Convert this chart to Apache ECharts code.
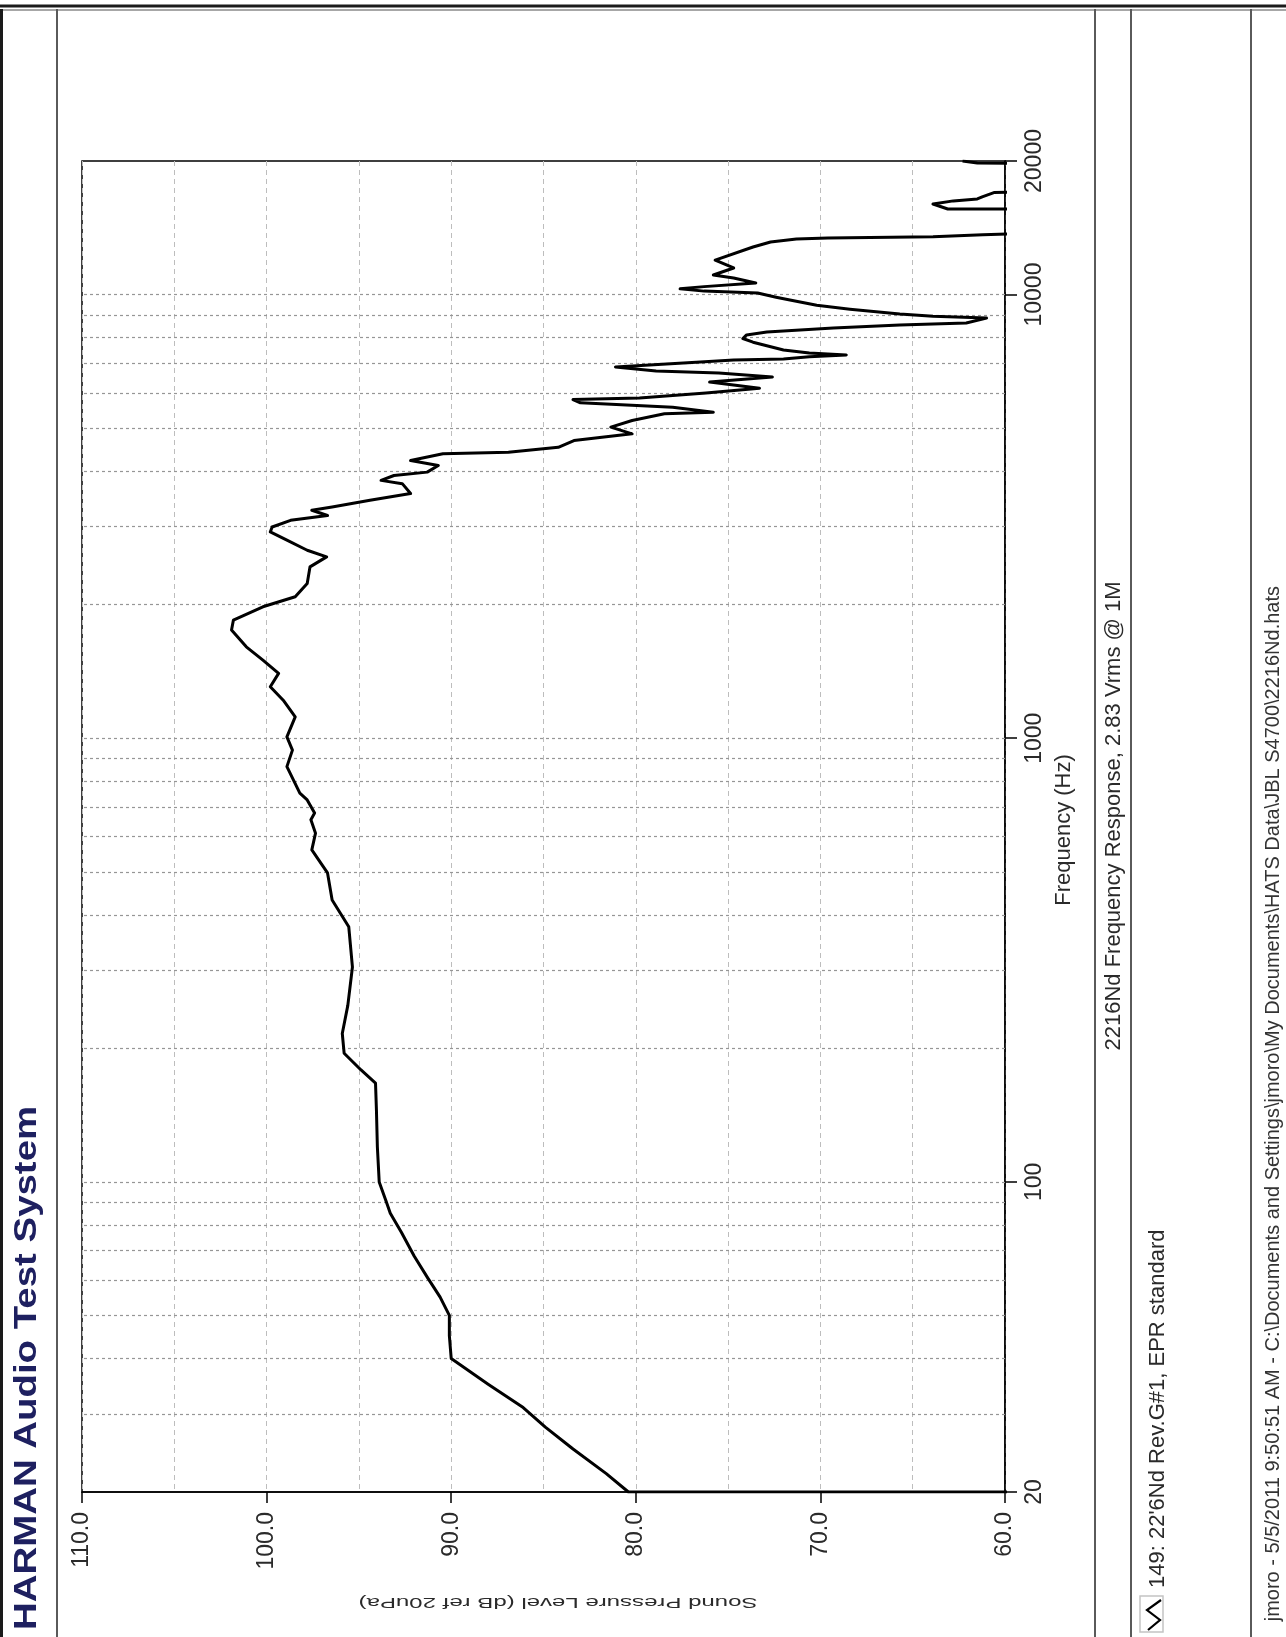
<!DOCTYPE html>
<html>
<head>
<meta charset="utf-8">
<title>2216Nd Frequency Response</title>
<script src="https://cdn.jsdelivr.net/npm/echarts@6/dist/echarts.min.js"></script>
<style>
  html, body { margin: 0; padding: 0; background: #fff; }
  #chart { position: absolute; left: 0; top: 0; width: 1286px; height: 1637px; }
</style>
</head>
<body>
<div id="chart"></div>
<script>
// Measured response of the 2216Nd driver (frequency in Hz, level in dB SPL)
const freqHz = [
  20, 20, 22, 25, 28, 31, 35, 40, 45, 50, 55, 61, 68, 77, 85, 91,
  100, 120, 145, 167, 179, 195, 216, 250, 305, 376, 432, 497, 560, 611, 655, 678,
  726, 752, 863, 940, 1007, 1117, 1218, 1306, 1400, 1500, 1607, 1753, 1845, 1978,
  2084, 2233, 2433, 2563, 2653, 2795, 2917, 2993, 3098, 3177, 3264, 3321, 3437, 3560,
  3748, 3812, 3910, 3979, 4119, 4227, 4377, 4414, 4527, 4687, 4853, 5025, 5202, 5385,
  5431, 5571, 5700, 5800, 5848, 6000, 6150, 6352, 6518, 6654, 6726, 6868, 7045, 7120,
  7160, 7240, 7310, 7380, 7500, 7810, 7960, 8110, 8230, 8410, 8540, 8630, 8850, 8940,
  9040, 9270, 9460, 9720, 9866, 10080, 10180, 10300, 10420, 10620, 10900, 11070, 11480,
  11960, 12800, 13140, 13340, 13420, 13500, 13640, 13800, 15580, 15590, 16000, 16260,
  16430, 16630, 16980, 17100, 19700, 19800, 20000
];
const splDb = [
  58, 80.4, 81.6, 83.4, 84.9, 86.1, 88.0, 90.0, 90.1, 90.1, 90.6, 91.3, 92.0, 92.7, 93.3, 93.55,
  93.9, 94.0, 94.05, 94.1, 94.9, 95.8, 95.9, 95.6, 95.35, 95.55, 96.45, 96.7, 97.55, 97.35, 97.6, 97.4,
  97.8, 98.2, 98.9, 98.6, 98.9, 98.45, 99.1, 99.8, 99.35, 100.2, 101.1, 101.9, 101.8, 100.2,
  98.45, 97.8, 97.65, 96.75, 97.8, 98.9, 99.8, 99.7, 98.7, 96.7, 97.55, 96.45, 94.4, 92.2,
  92.65, 93.8, 93.1, 91.3, 90.7, 92.2, 90.45, 86.9, 84.2, 83.35, 80.2, 81.35, 80.2, 78.45,
  75.8, 78.0, 83.0, 83.4, 79.8, 76.2, 73.3, 76.0, 72.6, 75.5, 78.9, 81.1, 76.5, 74.7,
  72.0, 70.6, 68.6, 70.6, 72.0, 73.65, 74.2, 74.0, 72.9, 69.3, 65.7, 62.1, 61.0, 63.9,
  65.7, 68.4, 70.2, 71.65, 72.4, 73.4, 76.3, 77.6, 76.3, 73.5, 74.7, 75.8, 74.7,
  75.7, 73.65, 72.7, 71.3, 69.6, 63.9, 61.2, 57, 57, 63.1, 63.9, 62.8,
  61.5, 61.2, 60.6, 57, 57, 61.5, 62.3
];

// Axis ranges and grid positions
const splRange = [60, 110];
const freqRange = [20, 20000];
const freqGridHz = [30, 40, 50, 60, 70, 80, 90, 100, 200, 300, 400, 500, 600, 700, 800, 900,
  1000, 2000, 3000, 4000, 5000, 6000, 7000, 8000, 9000, 10000];

// Text blocks of the report sheet
const titleText = 'HARMAN Audio Test System';
const freqAxisName = 'Frequency (Hz)';
const splAxisName = 'Sound Pressure Level (dB ref 20uPa)';
const subtitleText = '2216Nd Frequency Response, 2.83 Vrms @ 1M';
const legendText = "149: 22'6Nd Rev.G#1, EPR standard";
const footerText = 'jmoro - 5/5/2011 9:50:51 AM - C:\\Documents and Settings\\jmoro\\My Documents\\HATS Data\\JBL S4700\\2216Nd.hats';

const FONT = '"Liberation Sans", Arial, Helvetica, sans-serif';

// The sheet is laid out in portrait: level runs right-to-left, frequency bottom-to-top
const trace = freqHz.map((f, i) => [splDb[i], f]);

const chart = echarts.init(document.getElementById('chart'), null, { renderer: 'canvas' });

const ruleColor = '#5a5a5a';
function vRule(x, w, c) {
  return { type: 'line', silent: true, z: 10,
    shape: { x1: x, y1: 9, x2: x, y2: 1637 },
    style: { stroke: c || ruleColor, lineWidth: w || 2 } };
}
function rotText(x, y, text, font, fill, align, rot, sx) {
  return { type: 'text', x: x, y: y, rotation: rot == null ? Math.PI / 2 : rot,
    scaleX: sx || 1, silent: true, z: 10,
    style: { text: text, font: font, fill: fill, textAlign: align, textVerticalAlign: 'middle' } };
}

chart.setOption({
  animation: false,
  backgroundColor: '#ffffff',
  grid: {
    left: 82, top: 161, width: 923, height: 1331,
    show: true, borderColor: '#000', borderWidth: 1.5, backgroundColor: 'transparent'
  },
  xAxis: {
    type: 'value', min: splRange[0], max: splRange[1], interval: 10, inverse: true,
    position: 'bottom',
    axisLine: { show: true, onZero: false, lineStyle: { color: '#000', width: 1.5 } },
    axisTick: { show: true, length: 11, lineStyle: { color: '#000', width: 1.5 } },
    axisLabel: { rotate: 90, margin: 20, fontSize: 23, fontFamily: FONT, color: '#2a2a2a',
      formatter: v => v.toFixed(1) },
    splitLine: { show: true, lineStyle: { type: [5, 4], color: '#bdbdbd', width: 1 } },
    minorTick: { show: false, splitNumber: 2 },
    minorSplitLine: { show: true, lineStyle: { type: [5, 4], color: '#bdbdbd', width: 1 } }
  },
  yAxis: {
    type: 'log', logBase: 10, min: freqRange[0], max: freqRange[1], position: 'right',
    axisLine: { show: true, onZero: false, lineStyle: { color: '#000', width: 1.5 } },
    axisTick: { show: true, length: 12, lineStyle: { color: '#000', width: 1.5 } },
    axisLabel: { rotate: 90, margin: 18, fontSize: 23, fontFamily: FONT, color: '#2a2a2a',
      showMinLabel: true, showMaxLabel: true,
      formatter: v => String(Math.round(v)) },
    splitLine: { show: false }
  },
  series: [
    {
      name: '149',
      type: 'line',
      data: trace,
      showSymbol: false,
      clip: true,
      z: 3,
      lineStyle: { color: '#000', width: 3, join: 'round' },
      markLine: {
        silent: true,
        z: 1,
        symbol: ['none', 'none'],
        label: { show: false },
        lineStyle: { type: [3, 3], color: '#969696', width: 1.2 },
        emphasis: { disabled: true },
        data: freqGridHz.map(f => ({ yAxis: f }))
      }
    }
  ],
  graphic: [
    // sheet frame
    { type: 'line', silent: true, z: 10, shape: { x1: 0, y1: 6, x2: 1286, y2: 6 }, style: { stroke: '#1a1a1a', lineWidth: 3 } },
    { type: 'line', silent: true, z: 10, shape: { x1: 0, y1: 10, x2: 1286, y2: 10 }, style: { stroke: '#8a8a8a', lineWidth: 1.5 } },
    vRule(1.5, 3, '#1a1a1a'),
    vRule(57),
    vRule(1095),
    vRule(1131),
    vRule(1251),
    // header block
    rotText(27, 1630, titleText, 'bold 32px ' + FONT, '#1e2060', 'left', Math.PI / 2, 1.2),
    // axis titles
    rotText(1064, 830, freqAxisName, '22px ' + FONT, '#2a2a2a', 'center'),
    rotText(558, 1602, splAxisName, '15px ' + FONT, '#2a2a2a', 'center', Math.PI, 1.6),
    // description
    rotText(1114, 816, subtitleText, '22px ' + FONT, '#2a2a2a', 'center'),
    // legend entry
    { type: 'rect', silent: true, z: 10, shape: { x: 1140, y: 1596, width: 23, height: 36 },
      style: { fill: 'none', stroke: '#c4c4c4', lineWidth: 1.5 } },
    { type: 'polyline', silent: true, z: 11,
      shape: { points: [[1161, 1600], [1147, 1610], [1160, 1620], [1148, 1630]] },
      style: { stroke: '#000', lineWidth: 2.2, fill: 'none' } },
    rotText(1158, 1588, legendText, '22px ' + FONT, '#2a2a2a', 'left'),
    // file footer
    rotText(1273, 586, footerText, '20px ' + FONT, '#333', 'right')
  ]
});
</script>
</body>
</html>
